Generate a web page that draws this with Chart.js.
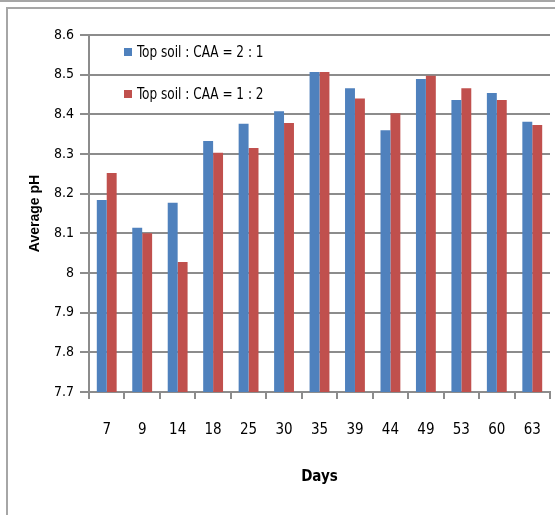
<!DOCTYPE html>
<html>
<head>
<meta charset="utf-8">
<script src="https://cdn.jsdelivr.net/npm/chart.js@4.4.1/dist/chart.umd.min.js"></script>
<style>
  html, body { margin: 0; padding: 0; background: #ffffff; }
  body { width: 555px; height: 515px; position: relative; overflow: hidden; }
  #topline { position: absolute; left: 0; top: 0; width: 555px; height: 2px; background: #a6a6a6; }
  #frame { position: absolute; left: 6px; top: 7px; width: 560px; height: 520px;
           border-left: 2px solid #a6a6a6; border-top: 2px solid #a6a6a6; }
  #wrap { position: absolute; left: 0; top: 0; width: 555px; height: 515px; }
</style>
</head>
<body>
<div id="topline"></div>
<div id="frame"></div>
<div id="wrap"><canvas id="c" width="555" height="515"></canvas></div>
<script>
const days = ['7', '9', '14', '18', '25', '30', '35', '39', '44', '49', '53', '60', '63'];
const ratio21 = [8.184, 8.114, 8.177, 8.333, 8.376, 8.408, 8.507, 8.466, 8.360, 8.489, 8.436, 8.454, 8.381];
const ratio12 = [8.252, 8.100, 8.028, 8.303, 8.315, 8.378, 8.507, 8.440, 8.403, 8.497, 8.466, 8.436, 8.373];
const seriesLabels = ['Top soil : CAA = 2 : 1', 'Top soil : CAA = 1 : 2'];
const yTicks = [7.7, 7.8, 7.9, 8.0, 8.1, 8.2, 8.3, 8.4, 8.5, 8.6];

const NARROW = '"Liberation Sans Narrow", "DejaVu Sans Condensed", "Arial Narrow", sans-serif';
const GRID = '#8c8c8c';

const insideLegend = {
  id: 'insideLegend',
  afterDatasetsDraw(chart) {
    const ctx = chart.ctx;
    const rows = [52, 94];
    chart.data.datasets.forEach((ds, i) => {
      const y = rows[i];
      ctx.save();
      ctx.fillStyle = ds.backgroundColor;
      ctx.fillRect(124, y - 4, 8, 8);
      ctx.translate(137, y + 1);
      ctx.scale(0.84, 1);
      ctx.font = '16px ' + NARROW;
      ctx.textBaseline = 'middle';
      ctx.textAlign = 'left';
      ctx.fillStyle = '#000000';
      ctx.fillText(ds.label, 0, 0);
      ctx.restore();
    });
  }
};

new Chart(document.getElementById('c'), {
  type: 'bar',
  data: {
    labels: days,
    datasets: [
      { label: seriesLabels[0], data: ratio21, backgroundColor: '#4F81BD', borderWidth: 0 },
      { label: seriesLabels[1], data: ratio12, backgroundColor: '#C0504D', borderWidth: 0 }
    ]
  },
  options: {
    responsive: false,
    animation: false,
    layout: { padding: { left: 0, top: 35, right: 5, bottom: 0 } },
    datasets: { bar: { categoryPercentage: 0.56, barPercentage: 1.0 } },
    plugins: { legend: { display: false }, tooltip: { enabled: false } },
    scales: {
      x: {
        grid: { drawOnChartArea: false, drawTicks: true, tickLength: 7, color: GRID, lineWidth: 2 },
        border: { display: true, color: GRID, width: 2 },
        ticks: { color: '#000000', font: { family: NARROW, size: 15 }, padding: 22, maxRotation: 0 },
        title: { display: true, text: 'Days', color: '#000000',
                 font: { family: NARROW, size: 15, weight: 'bold' }, padding: { top: 0, bottom: 29 } },
        afterFit(scale) { scale.height = 123; scale.paddingLeft = 0; scale.paddingRight = 0; }
      },
      y: {
        min: 7.7,
        max: 8.6,
        afterBuildTicks(scale) { scale.ticks = yTicks.map(v => ({ value: v })); },
        grid: { color: GRID, lineWidth: 2, tickLength: 9, drawTicks: true },
        border: { display: true, color: GRID, width: 2 },
        ticks: {
          color: '#000000',
          font: { family: NARROW, size: 14 },
          padding: 6,
          callback(v) { return Number(v.toFixed(1)).toString(); }
        },
        title: { display: true, text: 'Average pH', color: '#000000',
                 font: { family: '"Liberation Sans", Arial, sans-serif', size: 14, weight: 'bold' },
                 padding: { top: 27, bottom: 0 } },
        afterFit(scale) { scale.width = 89; scale.paddingTop = 0; scale.paddingBottom = 0; }
      }
    }
  },
  plugins: [insideLegend]
});
</script>
</body>
</html>
